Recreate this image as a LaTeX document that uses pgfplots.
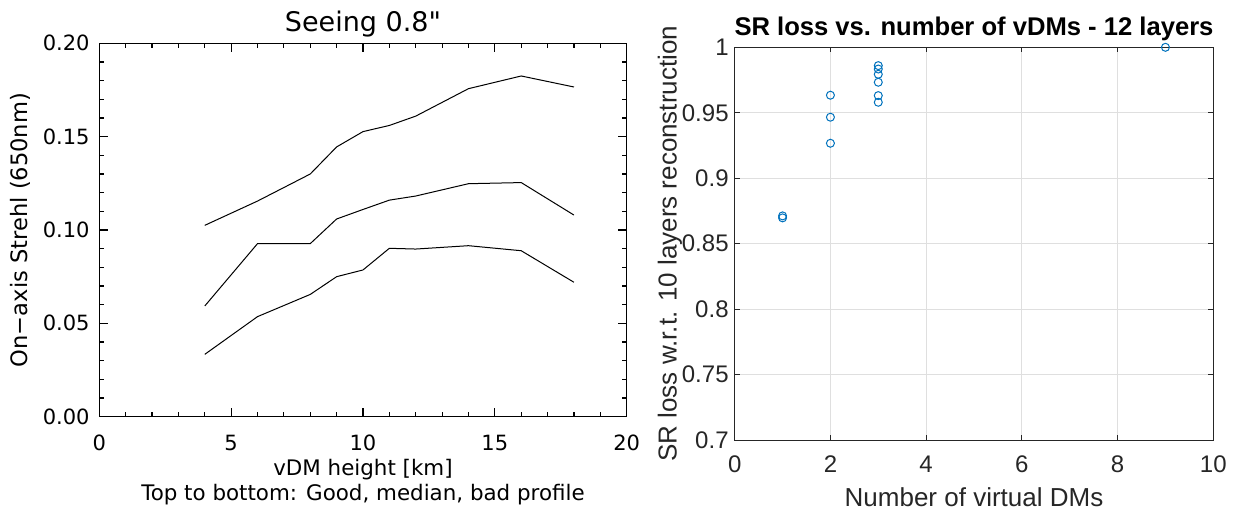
\documentclass[border=0pt]{standalone}
\usepackage{fontspec}
\usepackage{pgfplots}
\pgfplotsset{compat=1.18}
\newfontfamily\idl{DejaVu Sans}
\newfontfamily\arial{Liberation Sans}
\definecolor{matblue}{rgb}{0,0.447,0.741}
\begin{document}
\begin{tikzpicture}
\path[use as bounding box] (0,0) rectangle (616.5pt,255pt);
\begin{axis}[
  at={(49.65pt,46.65pt)}, anchor=south west,
  scale only axis, width=263.7pt, height=186.7pt,
  xmin=0, xmax=20, ymin=0, ymax=0.2,
  xtick={0,5,10,15,20}, ytick={0,0.05,0.1,0.15,0.2},
  minor x tick num=4, minor y tick num=4,
  xtick pos=both, ytick pos=both,
  tick align=inside,
  major tick length=4.5pt, minor tick length=2.2pt,
  tick style={black, line width=0.6pt},
  axis line style={line width=0.6pt},
  every axis title shift=0pt,
  /pgf/number format/assume math mode=true,
  scaled y ticks=false,
  tick label style={font=\idl\fontsize{10.5}{12}\selectfont},
  yticklabel style={/pgf/number format/fixed, /pgf/number format/fixed zerofill, /pgf/number format/precision=2, anchor=east, inner sep=0pt, xshift=-4.65pt},
  xticklabel style={anchor=base, yshift=-16.65pt},
  title={Seeing 0.8"},
  title style={at={(axis description cs:0.5,1)}, anchor=base, yshift=5.8pt, font=\idl\fontsize{13.5}{16}\selectfont},
  xlabel={vDM height [km]},
  xlabel style={at={(axis description cs:0.5,0)}, anchor=base, yshift=-29.15pt, font=\idl\fontsize{10.7}{12}\selectfont},
  ylabel={On−axis Strehl (650nm)},
  ylabel style={at={(axis description cs:-0.1365,0.5)}, anchor=base, font=\idl\fontsize{11.3}{13}\selectfont},
  clip=false,
]
\addplot[black, line width=0.5pt] coordinates {(4,0.1025) (6,0.1155) (8,0.1300) (9,0.1445) (10,0.1527) (11,0.1560) (12,0.1610) (14,0.1757) (16,0.1825) (18,0.1766)};
\addplot[black, line width=0.5pt] coordinates {(4,0.0593) (6,0.0927) (8,0.0927) (9,0.1059) (10,0.1110) (11,0.1160) (12,0.1182) (14,0.1248) (16,0.1254) (18,0.1080)};
\addplot[black, line width=0.5pt] coordinates {(4,0.0334) (6,0.0536) (8,0.0655) (9,0.0750) (10,0.0786) (11,0.0902) (12,0.0898) (14,0.0916) (16,0.0889) (18,0.0720)};
\node[anchor=base, font=\idl\fontsize{10.7}{12}\selectfont] at ([yshift=-42pt]axis description cs:0.5,0) {Top to bottom: Good, median, bad profile};
\end{axis}
\begin{axis}[
  at={(367.35pt,35pt)}, anchor=south west,
  scale only axis, width=239.3pt, height=196.35pt,
  xmin=0, xmax=10, ymin=0.7, ymax=1,
  xtick={0,2,4,6,8,10}, ytick={0.7,0.75,0.8,0.85,0.9,0.95,1},
  xtick pos=both, ytick pos=both,
  grid=major, major grid style={gray!25, line width=0.5pt},
  tick align=inside, major tick length=2.5pt,
  axis line style={black!85, line width=0.5pt},
  tick style={black!85, line width=0.5pt},
  every axis title shift=0pt,
  /pgf/number format/assume math mode=true,
  tick label style={font=\arial\fontsize{12}{14}\selectfont, text=black!85},
  yticklabel style={anchor=east, inner sep=0pt, xshift=-2.85pt},
  xticklabel style={anchor=base, yshift=-16.35pt},
  title={SR loss vs. number of vDMs - 12 layers},
  title style={at={(axis description cs:0.5,1)}, anchor=base, yshift=6.15pt, font=\arial\bfseries\fontsize{12.8}{15}\selectfont},
  xlabel={Number of virtual DMs},
  xlabel style={at={(axis description cs:0.5,0)}, anchor=base, yshift=-33.35pt, font=\arial\fontsize{13}{15}\selectfont, text=black!85},
  ylabel={SR loss w.r.t. 10 layers reconstruction},
  ylabel style={at={(axis description cs:-0.1216,0.5)}, anchor=base, font=\arial\fontsize{13}{15}\selectfont, text=black!85},
  clip=false,
]
\addplot[only marks, mark=o, mark size=2pt, color=matblue, mark options={line width=0.5pt}] coordinates {
(1,0.8712) (1,0.8697)
(2,0.9634) (2,0.9466) (2,0.9267)
(3,0.9860) (3,0.9834) (3,0.9794) (3,0.9733) (3,0.9631) (3,0.9580)
(9,1.0)};
\end{axis}
\end{tikzpicture}
\end{document}
